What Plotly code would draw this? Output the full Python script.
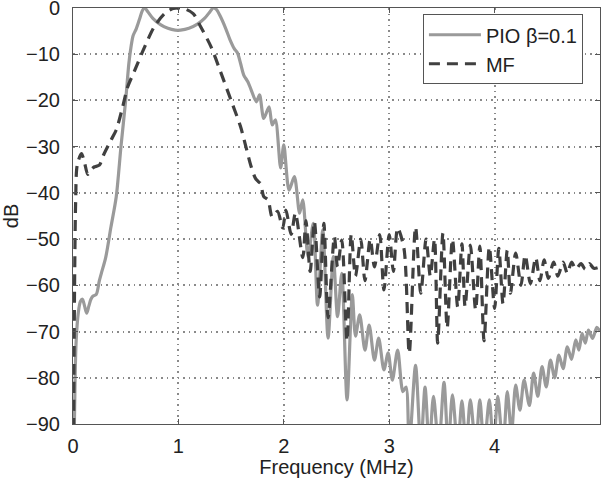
import plotly.graph_objects as go

# PIO beta=0.1 (solid gray)
pio_f = [0.01, 0.02, 0.03, 0.05, 0.07, 0.09, 0.11, 0.13, 0.15, 0.17, 0.19, 0.22, 0.25, 0.27, 0.31,
         0.36, 0.41, 0.455, 0.50, 0.53, 0.55, 0.57, 0.60, 0.63, 0.66, 0.68, 0.71, 0.76, 0.83, 0.90,
         0.97, 1.02, 1.10, 1.18, 1.25, 1.30, 1.33, 1.36, 1.40, 1.45, 1.49, 1.53, 1.56, 1.59, 1.62,
         1.66, 1.69, 1.74, 1.77, 1.81, 1.86, 1.89, 1.92, 1.97, 2.00, 2.05, 2.10, 2.15, 2.18, 2.23,
         2.28, 2.32, 2.37, 2.42, 2.47, 2.51, 2.55, 2.60, 2.65, 2.68, 2.72, 2.77, 2.81, 2.86, 2.90,
         2.95, 2.99, 3.03, 3.08, 3.13, 3.16, 3.19, 3.25, 3.30, 3.34, 3.38, 3.42, 3.47, 3.52, 3.56,
         3.60, 3.65, 3.69, 3.73, 3.77, 3.82, 3.86, 3.90, 3.95, 3.99, 4.03, 4.08, 4.12, 4.16, 4.20,
         4.24, 4.28, 4.33, 4.37, 4.41, 4.45, 4.49, 4.53, 4.57, 4.61, 4.65, 4.69, 4.73, 4.77, 4.80,
         4.83, 4.86, 4.89, 4.93, 4.97, 5.00]
pio_db = [-95, -80, -72, -66, -63.5, -63, -64.5, -66, -64.5, -63, -62.3, -62, -59, -57.3, -54,
          -47.4, -40.9, -30, -19.9, -12, -8.5, -6, -4.5, -2.5, -0.5, 0, -0.8, -2.3, -3.6, -4.4,
          -4.8, -4.8, -4.4, -3.5, -2.2, -0.8, 0, -0.3, -1.9, -4.5, -6.9, -8.8, -9.7, -12, -14.5,
          -16, -17.7, -20.3, -18.8, -23.9, -21.4, -25.3, -24.2, -34.6, -29.6, -39.4, -36.5, -44.4, -41.5, -53.8,
          -46.6, -64.3, -48, -71.4, -53.8, -66.8, -57.4, -84.8, -62, -71, -66.4, -74, -68.6, -76.2, -71.4,
          -78.3, -74.6, -80.5, -74, -83, -82, -95, -77.3, -95, -82, -95, -84, -95, -81, -95,
          -83.7, -95, -85, -95, -84.8, -95, -84.8, -95, -84.8, -95, -84, -95, -83, -92, -81.6,
          -87, -80.5, -86, -79, -84, -77.6, -82, -76.2, -80, -75.1, -78, -73.3, -76, -71.8, -74,
          -70.4, -72.5, -69.7, -71.5, -69.1, -70]

# MF (dashed dark gray)
mf_f = [0.005, 0.015, 0.025, 0.04, 0.08, 0.11, 0.14, 0.17, 0.20, 0.25, 0.29, 0.36, 0.41, 0.47, 0.52,
        0.58, 0.68, 0.77, 0.87, 0.95, 1.00, 1.05, 1.14, 1.21, 1.31, 1.40, 1.50, 1.59, 1.64, 1.69,
        1.73, 1.76, 1.78, 1.81, 1.85, 1.89, 1.94, 1.99, 2.02, 2.07, 2.11, 2.18, 2.21, 2.25, 2.29,
        2.34, 2.38, 2.42, 2.48, 2.51, 2.55, 2.60, 2.64, 2.68, 2.73, 2.77, 2.82, 2.86, 2.91, 2.95,
        3.00, 3.04, 3.08, 3.14, 3.19, 3.25, 3.30, 3.35, 3.39, 3.43, 3.46, 3.51, 3.55, 3.60, 3.65,
        3.69, 3.72, 3.77, 3.82, 3.86, 3.90, 3.95, 4.00, 4.04, 4.08, 4.12, 4.15, 4.20, 4.25, 4.29,
        4.34, 4.39, 4.43, 4.47, 4.51, 4.56, 4.60, 4.65, 4.69, 4.73, 4.77, 4.82, 4.86, 4.90, 4.94,
        5.00]
mf_db = [-95, -60, -42, -34, -31.5, -33.5, -36, -35, -34.4, -34, -31.8, -28.6, -26.4, -21.5, -17,
         -13.8, -8.4, -4.1, -1.2, -0.1, 0, -0.1, -1.2, -4, -8.4, -13.8, -20, -25.7, -30, -34.3,
         -36.8, -37.6, -38, -40.8, -41.5, -45.2, -44, -47.6, -43.7, -49, -44.4, -54, -46, -57, -46.2,
         -62.5, -46.6, -67, -49.5, -56, -50.2, -72, -49, -58, -50, -59, -50, -56, -49, -61,
         -49, -57, -47.6, -52, -74.7, -47.4, -61.7, -50, -58, -50, -72.5, -48.7, -69.2, -50, -64.7,
         -51, -64.6, -51.3, -65.3, -51.5, -72, -51.7, -65, -52, -64, -52.4, -61.7, -53, -60, -53.5,
         -59.6, -54, -59, -54.5, -58.5, -55, -58, -55, -57.4, -55, -56.5, -55.3, -56.5, -55.3, -56.3,
         -56]

x_ticks = [0, 1, 2, 3, 4]
y_ticks = [-90, -80, -70, -60, -50, -40, -30, -20, -10, 0]

FONT = "Liberation Sans, Arial, sans-serif"

fig = go.Figure()
fig.add_trace(go.Scatter(x=pio_f, y=pio_db, mode="lines", name="PIO β=0.1",
                         line=dict(color="#9a9a9a", width=3.2, shape="spline", smoothing=0.8)))
fig.add_trace(go.Scatter(x=mf_f, y=mf_db, mode="lines", name="MF",
                         line=dict(color="#404040", width=3.2, dash="11px,7px",
                                   shape="spline", smoothing=0.8)))

axis_common = dict(showline=True, linecolor="#555555", linewidth=1, mirror="ticks",
                   ticks="inside", ticklen=5, tickcolor="#555555",
                   showgrid=True, gridcolor="#8a8a8a", griddash="1.5px,4px", gridwidth=1.5,
                   zeroline=False, ticklabeloverflow="allow",
                   tickfont=dict(family=FONT, size=20, color="#222222"))

fig.update_xaxes(range=[0, 5], tickvals=x_ticks, ticklabelstandoff=4,
                 title=dict(text="Frequency (MHz)", font=dict(family=FONT, size=20, color="#222222"),
                            standoff=4),
                 **axis_common)
fig.update_yaxes(range=[-90, 0], tickvals=y_ticks, ticklabelstandoff=8,
                 title=dict(text="dB", font=dict(family=FONT, size=20, color="#222222"),
                            standoff=8),
                 **axis_common)

fig.update_layout(
    width=601, height=478,
    margin=dict(l=73, r=1, t=8, b=54, autoexpand=False),
    plot_bgcolor="white", paper_bgcolor="white",
    font=dict(family=FONT, size=20, color="#222222"),
    legend=dict(x=0.664, y=0.985, xanchor="left", yanchor="top",
                bgcolor="white", bordercolor="#555555", borderwidth=1,
                font=dict(family=FONT, size=20, color="#222222"),
                tracegroupgap=0, itemwidth=52),
    showlegend=True,
)

fig.write_html("out.html", config={"displayModeBar": False},
               post_script="document.body.style.margin='0';document.body.style.overflow='hidden';")
